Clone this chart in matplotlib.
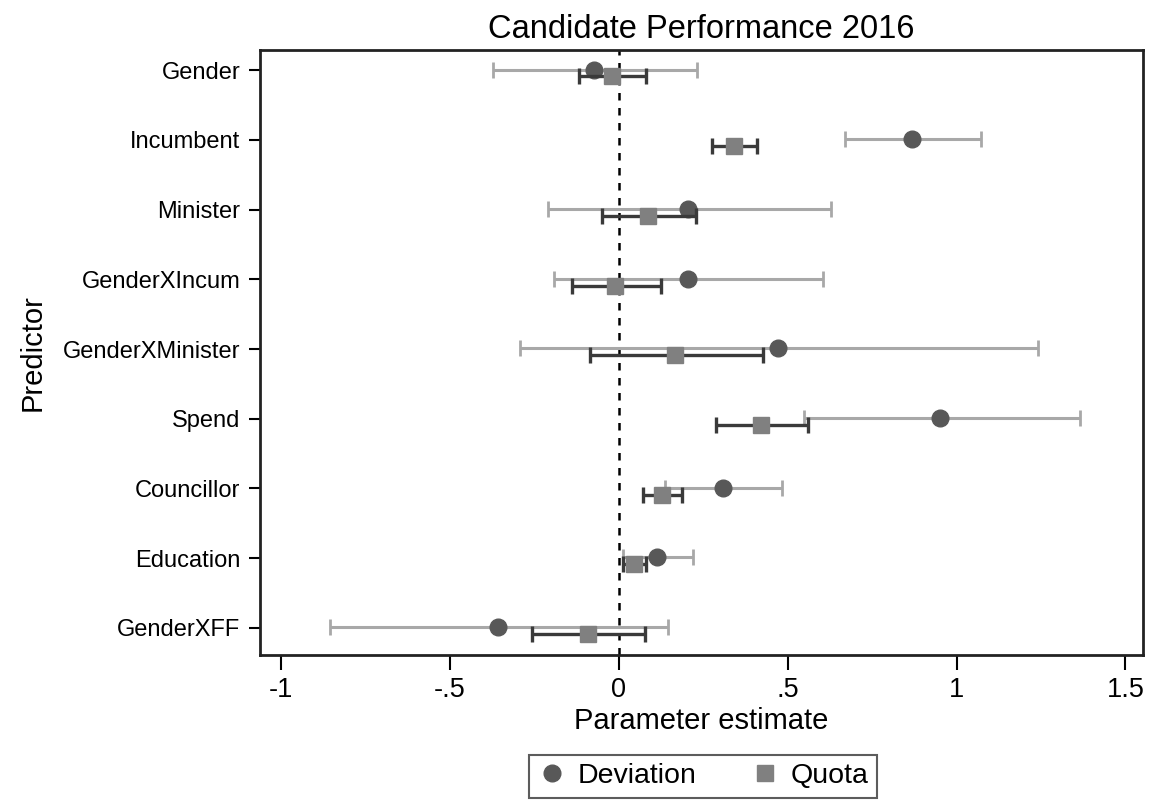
import matplotlib
matplotlib.use('Agg')
import matplotlib.pyplot as plt
import numpy as np
from matplotlib import rcParams
from matplotlib.lines import Line2D

rcParams['font.family'] = ['Liberation Sans', 'DejaVu Sans']

predictors = ['Gender', 'Incumbent', 'Minister', 'GenderXIncum',
              'GenderXMinister', 'Spend', 'Councillor', 'Education',
              'GenderXFF']

# Deviation: estimate, lower and upper CI
dev_est = [-0.074, 0.868, 0.205, 0.205, 0.471, 0.952, 0.310, 0.114, -0.356]
dev_lo = [-0.373, 0.670, -0.209, -0.191, -0.293, 0.549, 0.138, 0.013, -0.854]
dev_hi = [0.233, 1.073, 0.627, 0.606, 1.242, 1.365, 0.484, 0.221, 0.146]

# Quota: estimate, lower and upper CI
quo_est = [-0.020, 0.340, 0.088, -0.010, 0.167, 0.420, 0.129, 0.044, -0.090]
quo_lo = [-0.119, 0.275, -0.049, -0.139, -0.084, 0.287, 0.073, 0.012, -0.256]
quo_hi = [0.082, 0.410, 0.228, 0.126, 0.427, 0.559, 0.188, 0.082, 0.077]

xticks = [-1, -0.5, 0, 0.5, 1, 1.5]
xticklabels = ['-1', '-.5', '0', '.5', '1', '1.5']

fig = plt.figure(figsize=(11.55, 8.08), dpi=100)
ax = fig.add_axes([0.2251, 0.1894, 0.9896 - 0.2251, 0.9381 - 0.1894])

y = np.arange(len(predictors))
dev_est = np.array(dev_est)
quo_est = np.array(quo_est)

ax.axvline(0, color='black', linestyle=(0, (3, 3)), lw=1.8, zorder=1)

# deviation
ax.errorbar(dev_est, y - 0.01,
            xerr=[dev_est - np.array(dev_lo), np.array(dev_hi) - dev_est],
            fmt='none', ecolor='#a8a8a8', elinewidth=2.2, capsize=6,
            capthick=2.0, zorder=2)
ax.plot(dev_est, y - 0.01, 'o', color='#585858', ms=12, mec='#585858',
        zorder=3)

# quota
ax.errorbar(quo_est, y + 0.09,
            xerr=[quo_est - np.array(quo_lo), np.array(quo_hi) - quo_est],
            fmt='none', ecolor='#3a3a3a', elinewidth=2.4, capsize=6,
            capthick=2.4, zorder=4)
ax.plot(quo_est, y + 0.09, 's', color='#808080', ms=11.5, mec='#808080',
        zorder=5)

ax.set_xlim(-1.062, 1.552)
ax.set_ylim(8.39, -0.29)
ax.set_yticks(y)
ax.set_yticklabels(predictors, fontsize=17)
ax.set_xticks(xticks)
ax.set_xticklabels(xticklabels, fontsize=19.5)
ax.tick_params(axis='y', length=8, width=1.5, pad=6)
ax.tick_params(axis='x', length=11, width=1.5, pad=5)
for s in ax.spines.values():
    s.set_linewidth(2)
    s.set_color('#222222')

ax.set_xlabel('Parameter estimate', fontsize=21, labelpad=3)
ax.set_ylabel('Predictor', fontsize=21, labelpad=12)
ax.set_title('Candidate Performance 2016', fontsize=23.5, pad=9)

handles = [Line2D([], [], marker='o', ls='none', color='#585858', ms=12),
           Line2D([], [], marker='s', ls='none', color='#808080', ms=11)]
leg = fig.legend(handles, ['Deviation', 'Quota'], ncol=2,
                 loc='lower center', bbox_to_anchor=(0.6087, -0.005),
                 fontsize=20.5, frameon=True, fancybox=False,
                 handletextpad=0.4, columnspacing=1.9, handlelength=1.0,
                 borderpad=0.3)
leg.get_frame().set_edgecolor('#333333')
leg.get_frame().set_linewidth(1.5)

fig.savefig('out.png', dpi=100)
